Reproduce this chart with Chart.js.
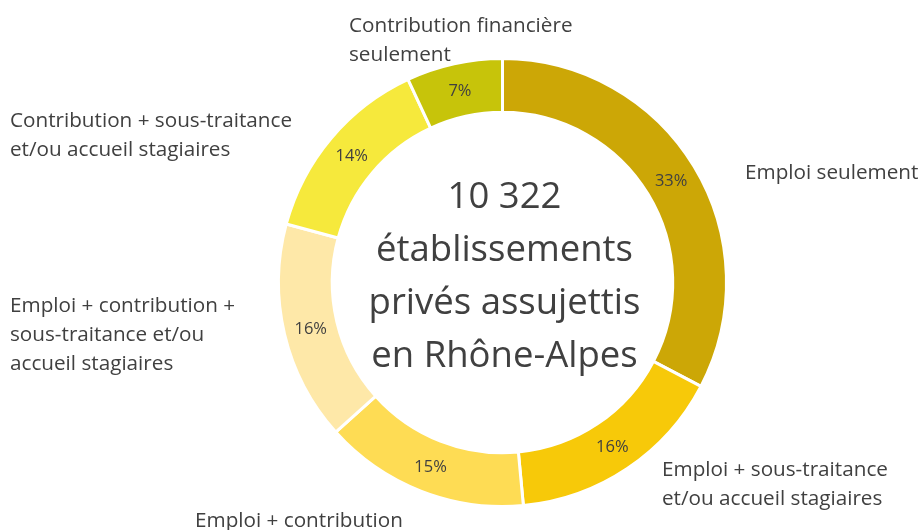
<!DOCTYPE html>
<html><head><meta charset="utf-8">
<script src="https://cdn.jsdelivr.net/npm/chart.js@4.4.1/dist/chart.umd.min.js"></script>
<style>html,body{margin:0;padding:0;background:#fff}#wrap{width:922px;height:530px;position:relative}</style>
</head><body><div id="wrap"><canvas id="c" width="922" height="530"></canvas></div>
<script>
const categories = [
  "Emploi seulement",
  "Emploi + sous-traitance et/ou accueil stagiaires",
  "Emploi + contribution",
  "Emploi + contribution + sous-traitance et/ou accueil stagiaires",
  "Contribution + sous-traitance et/ou accueil stagiaires",
  "Contribution financière seulement"
];
const values = [33, 16, 15, 16, 14, 7];
const pctLabels = ["33%", "16%", "15%", "16%", "14%", "7%"];
const centerLines = ["10 322", "établissements", "privés assujettis", "en Rhône-Alpes"];
const outerLabelLines = [
  ["Emploi seulement"],
  ["Emploi + sous-traitance", "et/ou accueil stagiaires"],
  ["Emploi + contribution"],
  ["Emploi + contribution +", "sous-traitance et/ou", "accueil stagiaires"],
  ["Contribution + sous-traitance", "et/ou accueil stagiaires"],
  ["Contribution financière", "seulement"]
];
const colors = ["#CCA706", "#F7C909", "#FEDC54", "#FEE8A8", "#F6E93C", "#C7C40A"];
// layout positions for the outer category labels (left x, first line middle y)
const outerLabelPos = [[745,173],[662,470],[195,521],[10,306],[10,121],[349,26]];

const FONT = "'Open Sans', Lato, sans-serif";
const textColor = "#404040";

const labelPlugin = {
  id: 'labels',
  afterDatasetsDraw(chart) {
    const ctx = chart.ctx;
    const meta = chart.getDatasetMeta(0);
    ctx.save();
    ctx.fillStyle = textColor;
    ctx.textAlign = 'center';
    ctx.textBaseline = 'middle';
    ctx.font = "16.5px " + FONT;
    meta.data.forEach((arc, i) => {
      const p = arc.tooltipPosition();
      ctx.fillText(pctLabels[i], p.x, p.y + 1);
    });
    // center text
    const a = meta.data[0];
    ctx.font = "36.5px " + FONT;
    const lh = 53;
    const n = centerLines.length;
    centerLines.forEach((t, k) => {
      ctx.fillText(t, a.x + 2, a.y - 5 + (k - (n - 1) / 2) * lh);
    });
    // outer labels
    ctx.textAlign = 'left';
    ctx.font = "20.7px " + FONT;
    outerLabelLines.forEach((lines, i) => {
      const [x, y] = outerLabelPos[i];
      lines.forEach((t, k) => ctx.fillText(t, x, y + k * 29));
    });
    ctx.restore();
  }
};

new Chart(document.getElementById('c'), {
  type: 'doughnut',
  data: {
    labels: categories,
    datasets: [{
      data: values,
      backgroundColor: colors,
      borderColor: '#ffffff',
      borderWidth: 3,
      hoverOffset: 0
    }]
  },
  options: {
    responsive: false,
    animation: false,
    cutout: '76%',
    rotation: 0,
    layout: { padding: { top: 57, bottom: 22, left: 277, right: 194 } },
    plugins: { legend: { display: false }, tooltip: { enabled: false } }
  },
  plugins: [labelPlugin]
});
</script>
</body></html>
